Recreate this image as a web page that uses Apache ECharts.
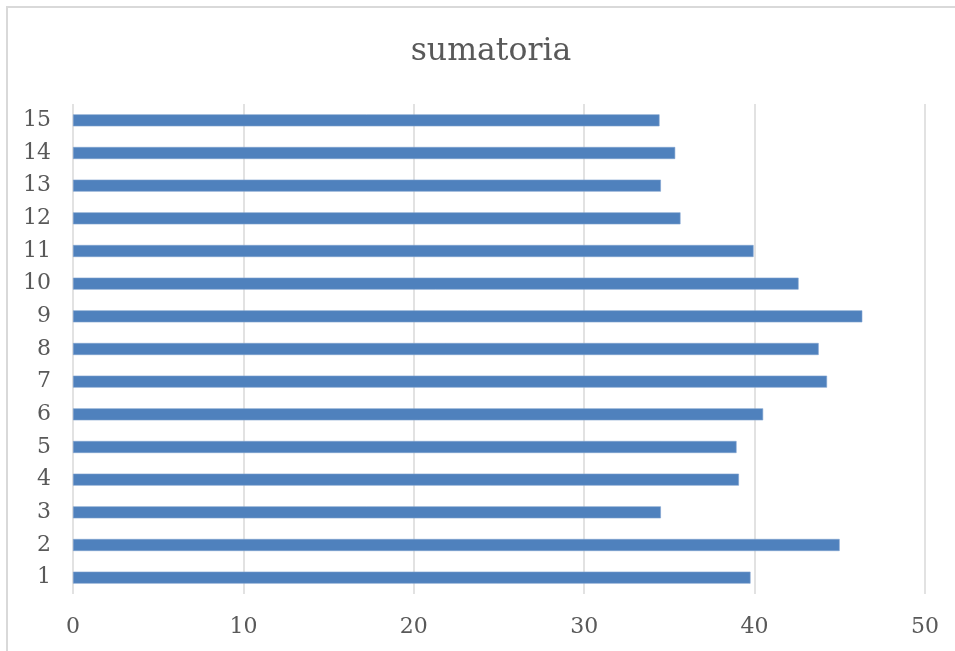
<!DOCTYPE html>
<html>
<head>
<meta charset="utf-8">
<script src="https://cdn.jsdelivr.net/npm/echarts@6/dist/echarts.min.js"></script>
<style>
html,body{margin:0;padding:0;background:#fff;}
#frame{position:absolute;left:6px;top:6px;width:960px;height:660px;border:2px solid #d9d9d9;box-sizing:border-box;}
#chart{position:absolute;left:0;top:0;width:955px;height:651px;}
</style>
</head>
<body>
<div id="frame"></div>
<div id="chart"></div>
<script>
const titleText = 'sumatoria';
const categories = ['1','2','3','4','5','6','7','8','9','10','11','12','13','14','15'];
const values = [39.76, 44.99, 34.5, 39.08, 38.94, 40.5, 44.25, 43.76, 46.32, 42.58, 39.94, 35.65, 34.5, 35.34, 34.42];
const xTicks = { min: 0, max: 50, interval: 10 };

const chart = echarts.init(document.getElementById('chart'), null, { renderer: 'canvas' });
const font = 'DejaVu Serif';
chart.setOption({
  backgroundColor: 'transparent',
  animation: false,
  title: {
    text: titleText,
    left: 486,
    top: 31,
    textAlign: 'center',
    textStyle: { fontFamily: font, fontSize: 31.5, fontWeight: 'normal', color: '#595959' }
  },
  grid: { left: 73, right: 30, top: 104, bottom: 57, containLabel: false },
  xAxis: {
    type: 'value',
    min: xTicks.min, max: xTicks.max, interval: xTicks.interval,
    axisLine: { show: false },
    axisTick: { show: false },
    splitLine: { show: true, lineStyle: { color: '#d9d9d9', width: 1.5 } },
    axisLabel: { fontFamily: font, fontSize: 22, color: '#595959', margin: 22 }
  },
  yAxis: {
    type: 'category',
    data: categories,
    axisLine: { show: false },
    axisTick: { show: false },
    axisLabel: { fontFamily: font, fontSize: 22, color: '#595959', margin: 22 }
  },
  series: [{
    type: 'bar',
    data: values,
    barWidth: 12,
    itemStyle: { color: '#4f81bd', borderColor: '#7ea1cf', borderWidth: 0.6 }
  }]
});
</script>
</body>
</html>
